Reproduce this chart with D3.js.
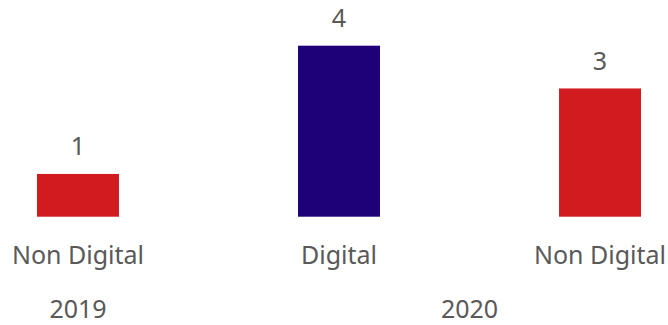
<!DOCTYPE html>
<html>
<head>
<meta charset="utf-8">
<script src="https://cdn.jsdelivr.net/npm/d3@7"></script>
<style>
  html, body { margin: 0; padding: 0; background: #fff; }
  svg { display: block; }
  text { font-family: "Noto Sans", "Open Sans", sans-serif; fill: #595959; }
</style>
</head>
<body>
<svg id="chart" width="668" height="325"></svg>
<script>
// Bars: one per category, grouped by year
const categories = ["Non Digital", "Digital", "Non Digital"];
const years = ["2019", "2020", "2020"];
const values = [1, 4, 3];
const barColors = ["#D11B1F", "#1E0078", "#D11B1F"];
const yearLabels = ["2019", "2020"];

const svg = d3.select("#chart");
const keys = values.map((d, i) => i);
const fontSize = 25;

const x = d3.scaleBand()
  .domain(keys)
  .range([37, 641])
  .paddingInner(0.686)
  .paddingOuter(0);

const y = d3.scaleLinear()
  .domain([0, 4])
  .range([216.7, 45.7]);

// Bars
svg.append("g")
  .selectAll("rect")
  .data(keys)
  .join("rect")
  .attr("x", i => x(i))
  .attr("width", x.bandwidth())
  .attr("y", i => y(values[i]))
  .attr("height", i => y(0) - y(values[i]))
  .attr("fill", i => barColors[i]);

// Value labels above bars
svg.append("g")
  .selectAll("text")
  .data(keys)
  .join("text")
  .attr("x", i => x(i) + x.bandwidth() / 2)
  .attr("y", i => y(values[i]) - 18.5)
  .attr("text-anchor", "middle")
  .attr("font-size", fontSize)
  .text(i => values[i]);

// Category labels
svg.append("g")
  .selectAll("text")
  .data(keys)
  .join("text")
  .attr("x", i => x(i) + x.bandwidth() / 2)
  .attr("y", 263.5)
  .attr("text-anchor", "middle")
  .attr("font-size", fontSize)
  .text(i => categories[i]);

// Year group labels, centred under their bars
svg.append("g")
  .selectAll("text")
  .data(yearLabels)
  .join("text")
  .attr("x", yr => {
    const idx = keys.filter(i => years[i] === yr);
    return d3.mean(idx, i => x(i) + x.bandwidth() / 2);
  })
  .attr("y", 318)
  .attr("text-anchor", "middle")
  .attr("font-size", fontSize)
  .text(yr => yr);
</script>
</body>
</html>
